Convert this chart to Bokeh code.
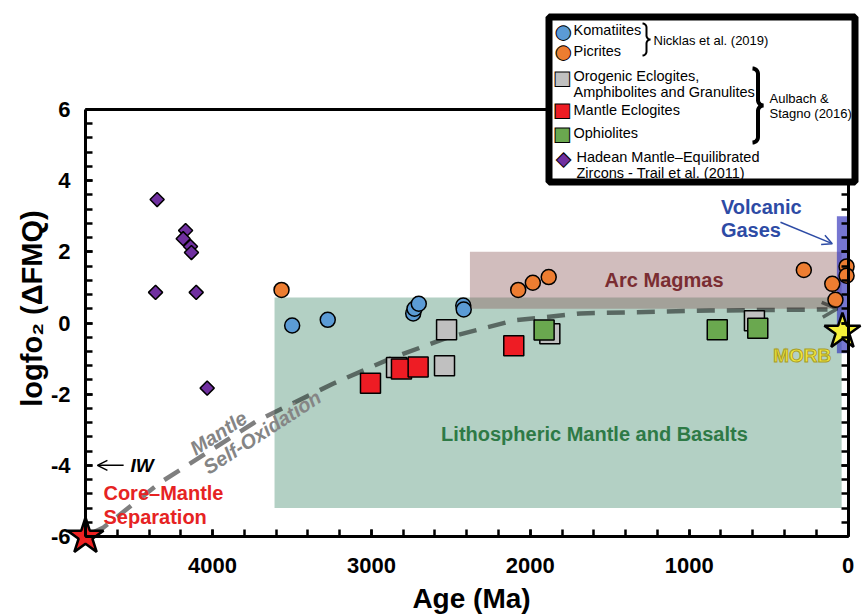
import math
from bokeh.plotting import figure
from bokeh.models import (Range1d, LinearAxis, SingleIntervalTicker, FixedTicker, Label,
                          BoxAnnotation, PolyAnnotation, Arrow, OpenHead,
                          PrintfTickFormatter)
from bokeh.embed import file_html
from bokeh.resources import INLINE

# ---------------- data ----------------
komatiite_age = [3499, 3275, 2737, 2729, 2702, 2422, 2419]
komatiite_fo2 = [-0.07, 0.09, 0.27, 0.40, 0.54, 0.49, 0.38]

picrite_age = [3566, 2076, 1984, 1884, 278, 99, 79, 9, 9]
picrite_fo2 = [0.93, 0.93, 1.13, 1.29, 1.49, 1.10, 0.65, 1.59, 1.33]

orogenic_age = [2842, 2540, 2527, 1877, 589]
orogenic_fo2 = [-1.25, -1.20, -0.19, -0.30, 0.06]

mantle_ecl_age = [3006, 2811, 2706, 2104]
mantle_ecl_fo2 = [-1.69, -1.29, -1.24, -0.64]

ophiolite_age = [1913, 823, 568]
ophiolite_fo2 = [-0.20, -0.19, -0.15]

zircon_age = [4349, 4359, 4170, 4185, 4139, 4133, 4103, 4034]
zircon_fo2 = [3.47, 0.86, 2.60, 2.37, 2.15, 1.98, 0.86, -1.83]

oxidation_age = [4760, 4687, 4328, 3717, 3239, 2880, 2521, 2106, 1684, 866, 129]
oxidation_fo2 = [-5.9, -5.75, -4.48, -2.74, -1.70, -1.00, -0.41, 0.07, 0.27, 0.35, 0.38]

lithosphere_age = [3610, 40]
lithosphere_fo2 = [-5.2, 0.72]
arc_age = [2380, 40]
arc_fo2 = [0.4, 2.0]
gas_age = [70, 0]
gas_fo2 = [-0.85, 3.0]

core_mantle_age = [4800]
core_mantle_fo2 = [-6.0]
morb_age = [35]
morb_fo2 = [-0.24]

age_limits = [4800, 0]
fo2_limits = [-6, 6]

legend_names = ["Komatiites", "Picrites", "Orogenic Eclogites,",
                "Amphibolites and Granulites", "Mantle Eclogites", "Ophiolites",
                "Hadean Mantle\u2013Equilibrated", "Zircons - Trail et al. (2011)"]
ref_nicklas = "Nicklas et al. (2019)"
ref_aulbach = ["Aulbach &", "Stagno (2016)"]

# ---------------- colours / fonts ----------------
C_BLUE = "#5b9bd5"
C_ORANGE = "#ed7d31"
C_GRAY = "#c0c0c0"
C_RED = "#ee1c24"
C_GREEN = "#6aa84f"
C_PURPLE = "#7030a0"
FONT = "Liberation Sans"
SYM = "DejaVu Sans"

# ---------------- layout: the frame fills the whole canvas ----------------
W, H = 862, 614
AX_LEFT_PX, AX_RIGHT_PX = 85.0, 847.5      # canvas x of age 4800 and age 0
AX_TOP_PX, AX_BOT_PX = 109.0, 536.0        # canvas y of +6 and -6
kx = (AX_RIGHT_PX - AX_LEFT_PX) / (age_limits[0] - age_limits[1])
ky = (AX_BOT_PX - AX_TOP_PX) / (fo2_limits[1] - fo2_limits[0])
x_start = age_limits[0] + AX_LEFT_PX / kx
x_end = age_limits[1] - (W - AX_RIGHT_PX) / kx
y_end = fo2_limits[1] + AX_TOP_PX / ky
y_start = fo2_limits[0] - (H - AX_BOT_PX) / ky

p = figure(width=W, height=H, x_range=Range1d(x_start, x_end),
           y_range=Range1d(y_start, y_end),
           x_axis_type=None, y_axis_type=None, output_backend="svg",
           toolbar_location=None, min_border=0)
p.title.visible = False
p.outline_line_color = None
p.background_fill_color = "white"
p.border_fill_color = "white"


def style_axis(ax, show_labels=True, standoff=13, ticks=True):
    ax.axis_line_width = 3
    ax.axis_line_color = "black"
    t = 7 if ticks else 0
    ax.major_tick_in = t
    ax.major_tick_out = 0
    ax.minor_tick_in = t
    ax.minor_tick_out = 0
    ax.major_tick_line_width = 2.5
    ax.minor_tick_line_width = 2.5
    ax.major_label_text_font = FONT
    ax.major_label_text_font_style = "bold"
    if show_labels:
        ax.major_label_text_color = "black"
        ax.major_label_text_font_size = "22px"
        ax.major_label_standoff = standoff
    else:
        ax.major_label_text_color = None
        ax.major_label_text_font_size = "1px"
        ax.major_label_standoff = 0
    ax.formatter = PrintfTickFormatter(format="%d")


xaxis = LinearAxis(ticker=SingleIntervalTicker(interval=1000, num_minor_ticks=5),
                   fixed_location=fo2_limits[0], bounds=(age_limits[1], age_limits[0]))
style_axis(xaxis, True, 21)
p.add_layout(xaxis, "below")

yaxis = LinearAxis(ticker=SingleIntervalTicker(interval=2, num_minor_ticks=5),
                   fixed_location=age_limits[0], bounds=(fo2_limits[0], fo2_limits[1]))
style_axis(yaxis, True, 15)
p.add_layout(yaxis, "left")

raxis = LinearAxis(ticker=SingleIntervalTicker(interval=2, num_minor_ticks=5),
                   fixed_location=age_limits[1], bounds=(fo2_limits[0], fo2_limits[1]))
style_axis(raxis, False)
p.add_layout(raxis, "right")

taxis = LinearAxis(ticker=FixedTicker(ticks=[]),
                   fixed_location=fo2_limits[1], bounds=(age_limits[1], age_limits[0]))
style_axis(taxis, False, ticks=False)
p.add_layout(taxis, "above")

# ---------------- shaded fields ----------------
p.quad(left=[lithosphere_age[0]], right=[lithosphere_age[1]],
       bottom=[lithosphere_fo2[0]], top=[lithosphere_fo2[1]],
       fill_color="#b3d0c4", line_color=None)
p.quad(left=[arc_age[0]], right=[arc_age[1]], bottom=[arc_fo2[0]], top=[arc_fo2[1]],
       fill_color="#8c5a5a", fill_alpha=0.4, line_color=None)
p.quad(left=[gas_age[0]], right=[gas_age[1]], bottom=[gas_fo2[0]], top=[gas_fo2[1]],
       fill_color="#3c3cbe", fill_alpha=0.7, line_color=None)

# ---------------- mantle self-oxidation curve ----------------
p.line(oxidation_age, oxidation_fo2, line_color="black", line_alpha=0.5,
       line_width=4.5, line_dash="18 12")
p.add_layout(Arrow(x_start=oxidation_age[-1], y_start=oxidation_fo2[-1],
                   x_end=68, y_end=0.40, line_alpha=0.0,
                   end=OpenHead(size=15, line_color="black", line_alpha=0.5,
                                line_width=3.5)))

# ---------------- data points ----------------
p.scatter(zircon_age, zircon_fo2, marker="square", angle=math.pi / 4, size=10,
          fill_color=C_PURPLE, line_color="black", line_width=1.5)
p.scatter(komatiite_age, komatiite_fo2, marker="circle", size=15,
          fill_color=C_BLUE, line_color="black", line_width=1.5)
p.scatter(picrite_age, picrite_fo2, marker="circle", size=15,
          fill_color=C_ORANGE, line_color="black", line_width=1.5)
p.scatter(orogenic_age, orogenic_fo2, marker="square", size=20,
          fill_color=C_GRAY, line_color="black", line_width=1.5)
p.scatter(mantle_ecl_age, mantle_ecl_fo2, marker="square", size=20,
          fill_color=C_RED, line_color="black", line_width=1.5)
p.scatter(ophiolite_age, ophiolite_fo2, marker="square", size=20,
          fill_color=C_GREEN, line_color="black", line_width=1.5)
p.scatter(core_mantle_age, core_mantle_fo2, marker="star", size=38,
          fill_color="#ee2222", line_color="black", line_width=2.5)
p.scatter(morb_age, morb_fo2, marker="star", size=38,
          fill_color="#f5f03a", line_color="black", line_width=2.5)

has_outline = "text_outline_color" in Label.properties()


# ---------------- annotations in the plot ----------------
def lab(x, y, text, color, size, style="bold", align="center", angle=0.0, outline=None):
    kw = {}
    if outline and has_outline:
        kw["text_outline_color"] = outline
    p.add_layout(Label(x=x, y=y, text=text, text_font=FONT, text_font_size=size,
                       text_font_style=style, text_color=color, text_align=align,
                       text_baseline="middle", angle=angle, **kw))


lab(1596, -3.11, "Lithospheric Mantle and Basalts", "#2e7a46", "20px")
lab(1158, 1.22, "Arc Magmas", "#7a2d32", "20px")
lab(800, 3.25, "Volcanic", "#2d4ba5", "20px", align="left")
lab(800, 2.60, "Gases", "#2d4ba5", "20px", align="left")
lab(288, -0.91, "MORB", "#f2e63a", "19px", outline="#a89e28")
lab(4687, -4.79, "Core\u2013Mantle", "#e62323", "20px", align="left")
lab(4687, -5.46, "Separation", "#e62323", "20px", align="left")
lab(4517, -4.0, "IW", "black", "19px", style="bold italic", align="left")
ang = math.radians(33)
lab(3963, -3.09, "Mantle", "#858585", "20px", style="bold italic", angle=ang)
lab(3688, -3.07, "Self-Oxidation", "#858585", "20px", style="bold italic", angle=ang)

p.add_layout(Arrow(x_start=4560, y_start=-4.0, x_end=4725, y_end=-4.0,
                   line_color="black", line_width=1.5,
                   end=OpenHead(size=10, line_color="black", line_width=1.5)))
p.add_layout(Arrow(x_start=425, y_start=2.83, x_end=99, y_end=2.23,
                   line_color="#2d4ba5", line_width=1.5,
                   end=OpenHead(size=10, line_color="#2d4ba5", line_width=1.5)))

# ---------------- axis titles (canvas units) ----------------
p.add_layout(Label(x=31, y=308, x_units="canvas", y_units="canvas",
                   text="logfo\u2082 (\u0394FMQ)", angle=math.pi / 2, text_font=FONT,
                   text_font_size="29px", text_font_style="bold", text_color="black",
                   text_align="center", text_baseline="middle"))
p.add_layout(Label(x=471, y=613, x_units="canvas", y_units="canvas",
                   text="Age (Ma)", text_font=FONT, text_font_size="28px",
                   text_font_style="bold", text_color="black",
                   text_align="center", text_baseline="bottom"))

# ---------------- legend (canvas units) ----------------
p.add_layout(BoxAnnotation(left=548.5, right=854.5, top=16.5, bottom=181.5,
                           left_units="canvas", right_units="canvas",
                           top_units="canvas", bottom_units="canvas",
                           fill_color="white", fill_alpha=1.0,
                           line_color="black", line_alpha=1.0, line_width=7,
                           level="overlay"))

mk = [("\u25cf", C_BLUE, 562.7, 30, "19px"), ("\u25cf", C_ORANGE, 562.7, 50, "19px"),
      ("\u25a0", C_GRAY, 562, 76, "19px"), ("\u25a0", C_RED, 562, 108, "19px"),
      ("\u25a0", C_GREEN, 562, 132, "19px"), ("\u25c6", C_PURPLE, 563, 157, "19px")]
for ch, col, x, y, fs in mk:
    kw = {"text_outline_color": "black"} if has_outline else {}
    p.add_layout(Label(x=x, y=y, x_units="canvas", y_units="canvas", text=ch,
                       text_font=SYM, text_font_size=fs, text_color=col,
                       text_align="center", text_baseline="middle", level="overlay", **kw))

leg_pos = [(573, 29), (573, 50), (573, 75), (573, 91), (573, 109), (573, 132),
           (576, 156), (576, 172)]
for name, (x, y) in zip(legend_names, leg_pos):
    p.add_layout(Label(x=x, y=y, x_units="canvas", y_units="canvas", text=name,
                       text_font=FONT, text_font_size="14.5px", text_color="black",
                       text_align="left", text_baseline="middle", level="overlay"))

p.add_layout(Label(x=653, y=40, x_units="canvas", y_units="canvas", text=ref_nicklas,
                   text_font=FONT, text_font_size="13px", text_color="black",
                   text_align="left", text_baseline="middle", level="overlay"))
p.add_layout(Label(x=769, y=98, x_units="canvas", y_units="canvas", text=ref_aulbach[0],
                   text_font=FONT, text_font_size="13px", text_color="black",
                   text_align="left", text_baseline="middle", level="overlay"))
p.add_layout(Label(x=769, y=113, x_units="canvas", y_units="canvas", text=ref_aulbach[1],
                   text_font=FONT, text_font_size="13px", text_color="black",
                   text_align="left", text_baseline="middle", level="overlay"))


def brace(x0, y_top, width, height, lw, n=10):
    r = width / 2.0
    yb = y_top + height
    ym = y_top + height / 2.0
    pts = []
    for i in range(n + 1):
        t = math.pi / 2 * i / n
        pts.append((x0 + r * math.sin(t), y_top + r - r * math.cos(t)))
    for i in range(n + 1):
        t = math.pi / 2 * i / n
        pts.append((x0 + 2 * r - r * math.cos(t), ym - r + r * math.sin(t)))
    for i in range(n + 1):
        t = math.pi / 2 * i / n
        pts.append((x0 + 2 * r - r * math.sin(t), ym + r - r * math.cos(t)))
    for i in range(n + 1):
        t = math.pi / 2 * i / n
        pts.append((x0 + r * math.cos(t), yb - r + r * math.sin(t)))
    path = pts + pts[::-1]
    p.add_layout(PolyAnnotation(xs=[q[0] for q in path], ys=[q[1] for q in path],
                                xs_units="canvas", ys_units="canvas",
                                fill_alpha=0.0, line_color="black", line_alpha=1.0,
                                line_width=lw, level="overlay"))


brace(642, 23, 8, 32, 2)
brace(752, 68, 11, 74, 4)

open("out.html", "w").write(file_html(p, INLINE))
